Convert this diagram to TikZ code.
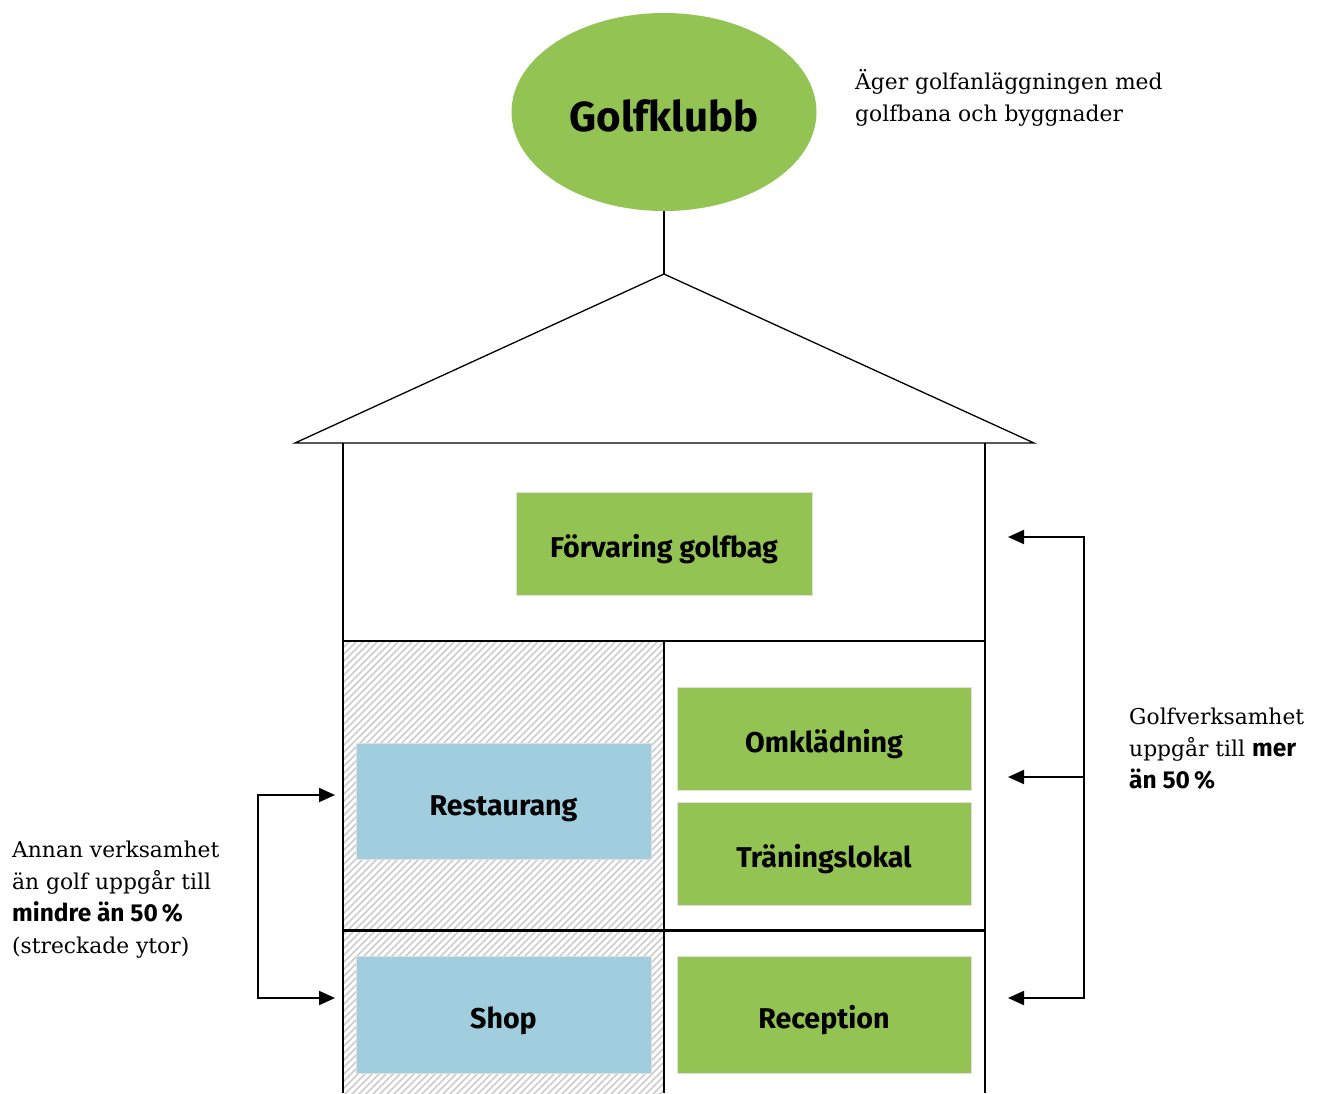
\documentclass[tikz,border=0pt]{standalone}
\usepackage{fontspec}
\setmainfont{DejaVu Serif}
\newfontfamily\bsans{Fira Sans}
\usetikzlibrary{arrows.meta,shapes.geometric}
\definecolor{ggreen}{RGB}{147,195,83}
\definecolor{gblue}{RGB}{160,206,222}
\newcommand{\bnote}[1]{{\bsans\bfseries\fontsize{24.5}{32}\selectfont #1}}
\begin{document}
\begin{tikzpicture}[x=1pt,y=-1pt,
  wall/.style={line width=1.3pt},
  hatchline/.style={draw=black!20,line width=1.6pt},
  gbox/.style={rectangle,fill=ggreen,draw=black!12,line width=0.8pt,inner sep=0pt,text height=28pt,text depth=0pt,font=\bsans\bfseries\fontsize{28.6}{30}\selectfont},
  bbox/.style={gbox,fill=gblue},
  arr/.style={line width=2pt,-{Triangle[length=16pt,width=14pt]}},
  note/.style={anchor=north west,align=left,inner sep=0pt,font=\fontsize{21.8}{32}\selectfont}]
\useasboundingbox (0,0) rectangle (1328,1093);
% hatched area
\begin{scope}
\clip (343,641) rectangle (664,1093);
\foreach \a in {-130,-123,...,670} \draw[hatchline] (\a,1100) -- ++(470,-470);
\end{scope}
% club
\node[ellipse,fill=ggreen,minimum width=305,minimum height=198,inner sep=0pt,text height=38pt,text depth=0pt,font=\bsans\bfseries\fontsize{42}{46}\selectfont] (club) at (664,112) {Golfklubb};
\coordinate (apex) at (664,274);
\coordinate (eaveL) at (295,443);
\coordinate (eaveR) at (1034,443);
\draw[wall] (club.south) -- (apex);
\draw[wall] (eaveL) -- (apex) -- (eaveR) -- cycle;
% walls
\coordinate (wlt) at (343,443); \coordinate (wlb) at (343,1093);
\coordinate (wrt) at (985,443); \coordinate (wrb) at (985,1093);
\draw[wall] (wlt) -- (wlb);
\draw[wall] (wrt) -- (wrb);
\coordinate (f1l) at (343,641); \coordinate (f1r) at (985,641);
\coordinate (f2l) at (343,930); \coordinate (f2r) at (985,930);
\draw[line width=2pt] (f1l) -- (f1r);
\draw[line width=3pt] (f2l) -- (f2r);
\coordinate (dt) at (664,641); \coordinate (db) at (664,1093);
\draw[wall] (dt) -- (db);
% boxes
\node[gbox,minimum width=296,minimum height=103] (forv) at (664,543.5) {Förvaring golfbag};
\node[gbox,minimum width=294,minimum height=103] (omkl) at (824,738.5) {Omklädning};
\node[gbox,minimum width=294,minimum height=103] (tran) at (824,853.5) {Träningslokal};
\node[gbox,minimum width=294,minimum height=117] (rec) at (824,1014.5) {Reception};
\node[bbox,minimum width=295,minimum height=116] (rest) at (503.5,801) {Restaurang};
\node[bbox,minimum width=295,minimum height=117] (shop) at (503.5,1014.5) {Shop};
% right arrows
\coordinate (r1) at (1084,537); \coordinate (r2) at (1084,777); \coordinate (r3) at (1084,998);
\coordinate (t1) at (1008,537); \coordinate (t2) at (1008,777); \coordinate (t3) at (1008,998);
\draw[arr] (r3) -- (r1) -- (t1);
\draw[arr] (r2) -- (t2);
\draw[arr] (r1) -- (r3) -- (t3);
% left arrows
\coordinate (l1) at (258,795); \coordinate (l2) at (258,998);
\coordinate (s1) at (335,795); \coordinate (s2) at (335,998);
\draw[arr] (l2) -- (l1) -- (s1);
\draw[arr] (l1) -- (l2) -- (s2);
% notes
\node[note] (n1) at (855,69) {Äger golfanläggningen med\\golfbana och byggnader};
\node[note] (n2) at (1129,708) {Golfverksamhet\\uppgår till \bnote{mer}\\\bnote{än 50\,\%}};
\node[note] (n3) at (12,841) {Annan verksamhet\\än golf uppgår till\\\bnote{mindre än 50\,\%}\\(streckade ytor)};
\end{tikzpicture}
\end{document}
